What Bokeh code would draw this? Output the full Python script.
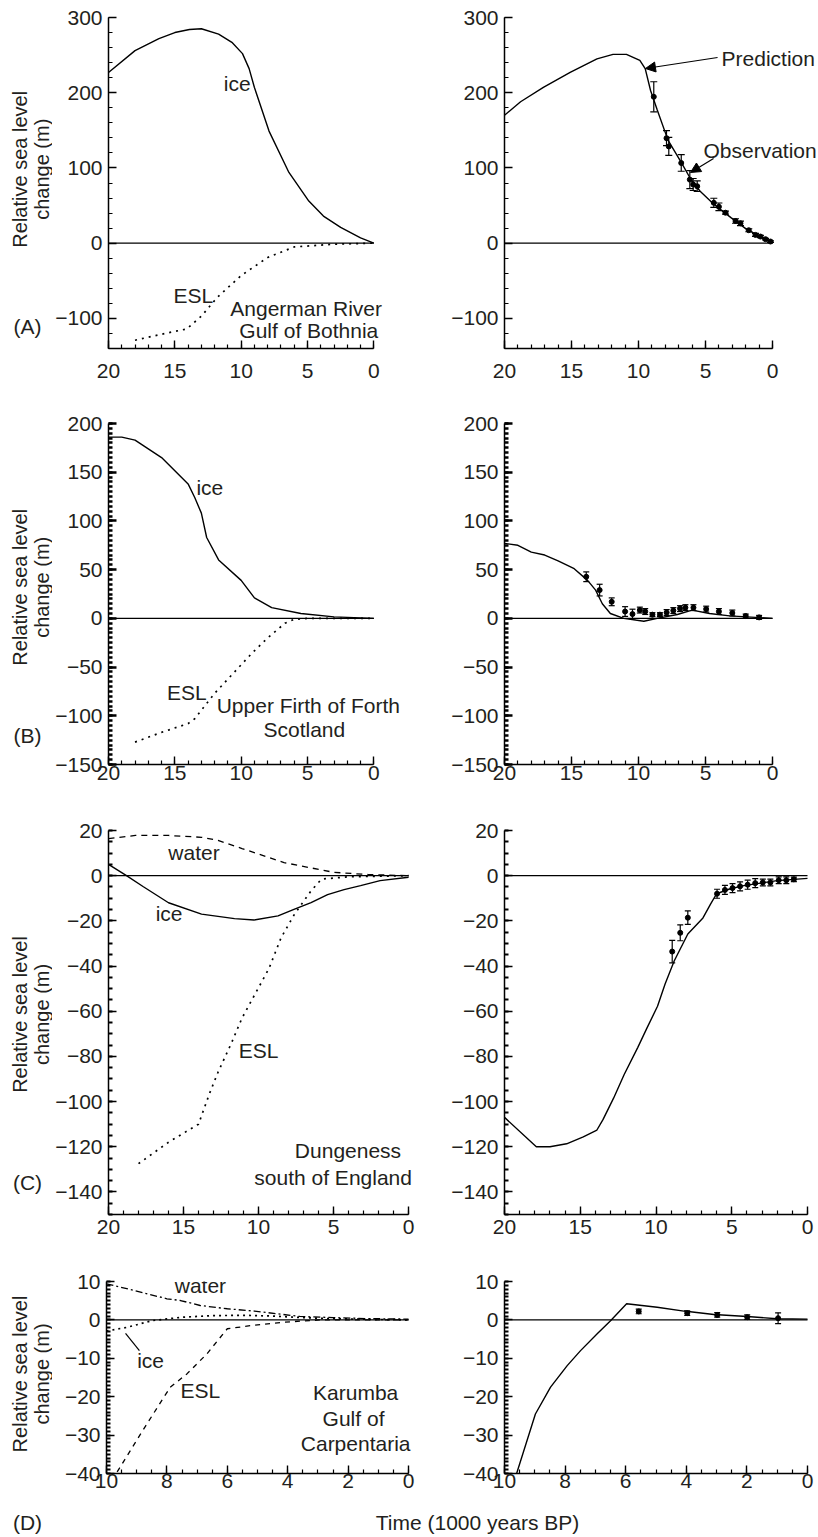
import math
from bokeh.plotting import figure
from bokeh.models import (Range1d, FixedTicker, Label, Whisker, TeeHead, Arrow,
                          NormalHead, ColumnDataSource, CustomJSTickFormatter)
from bokeh.layouts import column, row
from bokeh.embed import file_html
from bokeh.resources import INLINE

# ---------------- data ----------------
# (A) Angerman River, Gulf of Bothnia
A_ice_t = [20, 18, 16.2, 15, 13.9, 13, 11.7, 10.7, 9.9, 9.4, 9.0, 7.9, 6.4, 4.9, 3.8, 2.5, 1.0, 0]
A_ice = [227, 256, 272, 280, 284, 285, 278, 267, 252, 232, 207, 149, 94, 56, 36, 21, 7, 0]
A_esl_t = [18, 16, 14.1, 13, 11.8, 10, 8, 6, 3, 0]
A_esl = [-129, -121, -114, -97, -72, -43, -19, -5, -1.3, 0]
A_pred_t = [20, 18.8, 17.1, 15.1, 13.1, 11.9, 10.9, 9.9, 9.5, 9.1, 8.6, 7.8, 6.8, 6.1, 5.4, 4.4, 3.1, 1.9, 0.9, 0]
A_pred = [170, 188, 207, 227, 245, 251, 251, 243, 232, 203, 177, 137, 107, 85, 69, 52, 34, 18, 9, 0]
A_obs_t = [8.86, 7.91, 7.74, 6.81, 6.17, 5.92, 5.62, 4.38, 4.0, 3.51, 2.76, 2.39, 1.77, 1.27, 0.9, 0.52, 0.15]
A_obs = [194.6, 139.6, 128.6, 106.6, 84.5, 78, 75.7, 53.7, 48.4, 40.5, 29.5, 26.4, 17.2, 11, 8.8, 5.3, 2.2]
A_obs_e = [20, 10, 12, 11, 12, 8, 7, 6, 5, 2, 3, 3, 2, 2, 1.5, 1, 1]

# (B) Upper Firth of Forth, Scotland
B_ice_t = [20, 19, 18, 16, 14, 13.5, 13, 12.6, 11.7, 10, 9, 7.7, 5.5, 3, 0]
B_ice = [186, 186, 183, 165, 138, 124, 108, 83, 60, 39, 21, 11, 5, 1.5, 0]
B_esl_t = [18, 16, 14, 13.5, 12, 10.5, 9.2, 8, 6.7, 6, 5, 0]
B_esl = [-127, -117, -108, -103, -77, -55, -36, -20, -5, -1, 0, 0]
B_pred_t = [20, 19, 18, 17, 16, 14.8, 13.8, 13.2, 12.7, 12.1, 11.1, 9.6, 8.6, 7.1, 6.0, 4.7, 3.2, 0]
B_pred = [77, 75, 68, 65, 59, 51, 39, 29, 15, 5, 0, -3, 0, 4, 8.5, 5, 2.5, 0]
B_obs_t = [13.9, 12.9, 12.0, 11.0, 10.45, 9.9, 9.5, 8.96, 8.4, 7.9, 7.4, 6.9, 6.5, 5.9, 4.95, 4.0, 3.0, 2.0, 1.0]
B_obs = [42.7, 29, 17, 7, 4.4, 8.5, 7, 3.8, 3.8, 6, 8, 10, 11, 11, 9.5, 7, 5.5, 2.4, 1]
B_obs_e = [5, 6, 4, 5, 5, 3, 3, 2, 2, 3, 3, 3, 3, 3, 3, 3, 3, 2, 2]

# (C) Dungeness, south of England
C_water_t = [20, 18.2, 16, 13.8, 12.7, 11.1, 9.3, 8.3, 6.7, 5.0, 2.7, 0]
C_water = [16.4, 17.8, 17.8, 17, 15.6, 12, 8, 5.8, 3.7, 1.5, 0.5, 0]
C_ice_t = [20, 18.8, 17.7, 16, 13.8, 11.6, 10.3, 8.7, 7.6, 6.5, 5.4, 4.3, 3.2, 1.9, 0]
C_ice = [5, 0, -4.8, -12, -17, -19, -19.6, -17.8, -14.8, -11.9, -8.4, -6.2, -4.4, -2.2, -0.7]
C_esl_t = [18, 16, 14, 13.3, 12.7, 11.8, 11.1, 10.2, 9.3, 8.5, 7.6, 6.5, 5.8, 4, 0]
C_esl = [-127.5, -118, -110, -97, -87, -74, -63, -52, -41, -27.5, -17, -6.7, -1.5, -0.5, 0]
C_pred_t = [20, 17.9, 17, 15.9, 14.8, 13.9, 13.5, 12.8, 12.1, 11.2, 10.6, 9.9, 9.4, 8.8, 7.9, 6.9, 6.4,
            6.0, 5.1, 4.2, 2.0, 0]
C_pred = [-107, -120, -120, -118.7, -115.6, -112.6, -108, -98.5, -88, -76, -67.5, -57.8, -48, -37.8,
          -25.8, -18.7, -12.6, -8, -5.8, -4.4, -2.2, -1.2]
C_obs_t = [8.93, 8.4, 7.9, 5.97, 5.45, 4.95, 4.45, 3.95, 3.45, 2.95, 2.45, 1.9, 1.4, 0.9]
C_obs = [-33.6, -25.3, -18.6, -8, -6.3, -5.5, -4.7, -4, -3.3, -3, -3, -2, -2, -1.6]
C_obs_e = [5, 3.5, 3, 2, 2, 2, 2, 2, 2, 1.5, 1.5, 1.5, 1.5, 1]

# (D) Karumba, Gulf of Carpentaria
D_water_t = [10, 9.1, 8.0, 7.55, 6.9, 6.0, 5.1, 4.35, 3.6, 2.5, 1.4, 0]
D_water = [9.4, 7.7, 5.5, 5.05, 3.75, 2.9, 2.3, 1.6, 0.9, 0.6, 0.35, 0.2]
D_ice_t = [10, 9.3, 8.5, 7.5, 6.5, 5.5, 4.5, 3.5, 2.5, 0]
D_ice = [-2.9, -1.9, -0.2, 0.7, 1.1, 1.2, 1.0, 0.6, 0.3, 0]
D_esl_t = [10, 9.48, 8.87, 8.1, 7.88, 7.33, 6.67, 6.0, 5.23, 4.13, 2.9, 0]
D_esl = [-44, -37.5, -29.7, -20.1, -17.5, -14, -8.8, -2.3, -1.5, -0.6, 0, 0]
D_pred_t = [9.7, 8.98, 8.48, 7.93, 7.49, 6.94, 6.5, 5.97, 4.96, 4.08, 3.09, 1.99, 1.0, 0]
D_pred = [-42.5, -24.5, -17.5, -11.9, -8, -3.6, -0.2, 4.2, 3.3, 2.3, 1.4, 0.9, 0.3, 0.2]
D_obs_t = [5.57, 3.97, 2.98, 1.99, 0.97]
D_obs = [2.2, 1.75, 1.3, 0.7, 0.45]
D_obs_e = [0.6, 0.6, 0.6, 0.6, 1.4]

# axis tick definitions
A_yt = [-100, 0, 100, 200, 300]
B_yt = [-150, -100, -50, 0, 50, 100, 150, 200]
C_yt = [-140, -120, -100, -80, -60, -40, -20, 0, 20]
D_yt = [-40, -30, -20, -10, 0, 10]
T20_ticks = [0, 5, 10, 15, 20]
T10_ticks = [0, 2, 4, 6, 8, 10]

# ---------------- styling / layout ----------------
FONT = "Liberation Sans"
FS = "21px"
FS_TITLE = "20px"
INK = "#231f20"

# page rows: (top, frame_top, frame_bottom, bottom)
ROW_A = (0, 17, 348, 398)
ROW_B = (398, 423, 764, 805)
ROW_C = (805, 830, 1214, 1258)
ROW_D = (1258, 1281, 1473, 1505)
STRIP = (1505, 1535)
MARGIN_W = 52
# panel columns: (left, axis_start_px, axis_zero_px, right)
NL = (MARGIN_W, 106, 373, 425)
NR = (425, 504, 772, 818)
WL = (MARGIN_W, 106, 408, 425)
WR = (425, 504, 807, 818)

FMT_CODE = "return tick < 0 ? '\u2212' + Math.abs(tick) : String(tick);"


def make_panel(col, rw, xmax, yr, xt, xm, yt, ym, x_stand, y_stand, y_minor_w, y_major_w):
    L, fl, f0, R = col
    T, ft, fb, B = rw
    x_end = -(R - f0) / (f0 - fl) * xmax
    p = figure(width=R - L, height=B - T, x_range=Range1d(xmax, x_end), y_range=Range1d(*yr),
               min_border_left=fl - L, min_border_right=0,
               min_border_top=ft - T, min_border_bottom=B - fb,
               output_backend="svg", toolbar_location=None, title=None)
    p.outline_line_color = None
    p.xgrid.visible = False
    p.ygrid.visible = False
    p.background_fill_color = "white"
    p.border_fill_color = "white"
    p.xaxis.bounds = (0, xmax)
    specs = ((p.xaxis[0], xt, xm, x_stand, 1.2, 1.4), (p.yaxis[0], yt, ym, y_stand, y_minor_w, y_major_w))
    for ax, t, m, st, mw, jw in specs:
        ax.ticker = FixedTicker(ticks=t, minor_ticks=m)
        ax.formatter = CustomJSTickFormatter(code=FMT_CODE)
        ax.axis_line_color = "black"
        ax.axis_line_width = 1.5
        ax.major_tick_in = 8
        ax.major_tick_out = 0
        ax.minor_tick_in = 4
        ax.minor_tick_out = 0
        ax.major_tick_line_color = "black"
        ax.minor_tick_line_color = "black"
        ax.major_tick_line_width = jw
        ax.minor_tick_line_width = mw
        ax.major_label_text_font = FONT
        ax.major_label_text_font_size = FS
        ax.major_label_text_color = INK
        ax.major_label_standoff = st
    # zero reference line, along the axis extent only
    p.segment(x0=[xmax], y0=[0], x1=[0], y1=[0], line_color="black", line_width=1.3)
    return p


def txt(p, x, y, s, align="center", angle=0.0, size=FS):
    p.add_layout(Label(x=x, y=y, text=s, text_font=FONT, text_font_size=size, text_color=INK,
                       text_align=align, text_baseline="middle", angle=angle))


def margin_fig(rw, yc, tag, tag_y):
    T, ft, fb, B = rw
    m = figure(width=MARGIN_W, height=B - T, x_range=Range1d(0, MARGIN_W), y_range=Range1d(B, T),
               x_axis_type=None, y_axis_type=None, min_border=0, output_backend="svg",
               toolbar_location=None, title=None)
    m.outline_line_color = None
    m.background_fill_color = "white"
    m.border_fill_color = "white"
    txt(m, 19, yc, "Relative sea level", angle=math.pi / 2, size=FS_TITLE)
    txt(m, 41, yc, "change (m)", angle=math.pi / 2, size=FS_TITLE)
    if tag:
        txt(m, 27, tag_y, tag)
    return m


def obs(p, t, v, e, head=7):
    src = ColumnDataSource(dict(t=t, v=v, up=[a + b for a, b in zip(v, e)], lo=[a - b for a, b in zip(v, e)]))
    p.add_layout(Whisker(source=src, base="t", upper="up", lower="lo", dimension="height",
                         line_color="black", line_width=1.2,
                         upper_head=TeeHead(size=head, line_color="black", line_width=1.2),
                         lower_head=TeeHead(size=head, line_color="black", line_width=1.2)))
    p.scatter("t", "v", source=src, size=5, color="black")


SOLID = dict(line_color="black", line_width=1.4)
DOT = dict(line_color="black", line_width=1.7, line_dash="2 5")

m20 = list(range(0, 21))
m10 = [i * 0.5 for i in range(21)]

# ---- Row A ----
mA = margin_fig(ROW_A, 182.5, "(A)", 372)
pAL = make_panel(NL, ROW_A, 20, (-140, 300), T20_ticks, m20, A_yt, list(range(-140, 301, 20)), 15, 6, 1.2, 1.4)
pAL.line(A_ice_t, A_ice, **SOLID)
pAL.line(A_esl_t, A_esl, **DOT)
txt(pAL, 10.3, 212, "ice")
txt(pAL, 13.6, -69.5, "ESL")
txt(pAL, 5.1, -86.8, "Angerman River")
txt(pAL, 4.9, -116, "Gulf of Bothnia")

pAR = make_panel(NR, ROW_A, 20, (-140, 300), T20_ticks, m20, A_yt, list(range(-140, 301, 20)), 15, 6, 1.2, 1.4)
pAR.line(A_pred_t, A_pred, **SOLID)
obs(pAR, A_obs_t, A_obs, A_obs_e)
txt(pAR, 3.8, 245.5, "Prediction", align="left")
txt(pAR, 5.15, 123, "Observation", align="left")
pAR.add_layout(Arrow(end=NormalHead(size=10, fill_color="black", line_color="black"),
                     x_start=4.1, y_start=246.8, x_end=9.48, y_end=232.2, line_width=1.2, line_color="black"))
pAR.add_layout(Arrow(end=NormalHead(size=10, fill_color="black", line_color="black"),
                     x_start=4.4, y_start=112.6, x_end=6.12, y_end=94, line_width=1.2, line_color="black"))

# ---- Row B ----
mB = margin_fig(ROW_B, 593.5, "(B)", 770)
pBL = make_panel(NL, ROW_B, 20, (-150, 200), T20_ticks, m20, B_yt, list(range(-150, 201, 5)), 1, 6, 2.5, 2.5)
pBL.line(B_ice_t, B_ice, **SOLID)
pBL.line(B_esl_t, B_esl, **DOT)
txt(pBL, 12.36, 134.3, "ice")
txt(pBL, 14.1, -76, "ESL")
txt(pBL, 4.94, -89.4, "Upper Firth of Forth")
txt(pBL, 5.24, -114, "Scotland")

pBR = make_panel(NR, ROW_B, 20, (-150, 200), T20_ticks, m20, B_yt, list(range(-150, 201, 5)), 1, 6, 2.5, 2.5)
pBR.line(B_pred_t, B_pred, **SOLID)
obs(pBR, B_obs_t, B_obs, B_obs_e, head=6)

# ---- Row C ----
mC = margin_fig(ROW_C, 1022, "(C)", 1220)
pCL = make_panel(WL, ROW_C, 20, (-150, 20), T20_ticks, m20, C_yt, list(range(-150, 21, 5)), 5, 6, 2.2, 1.6)
pCL.line(C_water_t, C_water, line_color="black", line_width=1.3, line_dash="6 5")
pCL.line(C_ice_t, C_ice, **SOLID)
pCL.line(C_esl_t, C_esl, **DOT)
txt(pCL, 14.3, 10.4, "water")
txt(pCL, 15.96, -16.9, "ice")
txt(pCL, 10.0, -77.4, "ESL")
txt(pCL, 4.04, -121.7, "Dungeness")
txt(pCL, 5.03, -133.5, "south of England")

pCR = make_panel(WR, ROW_C, 20, (-150, 20), T20_ticks, m20, C_yt, list(range(-150, 21, 5)), 5, 6, 2.2, 1.6)
pCR.line(C_pred_t, C_pred, **SOLID)
obs(pCR, C_obs_t, C_obs, C_obs_e, head=6)

# ---- Row D ----
mD = margin_fig(ROW_D, 1377, None, 0)
pDL = make_panel(WL, ROW_D, 10, (-40, 10), T10_ticks, m10, D_yt, list(range(-40, 11, 1)), 0, 6, 2.2, 1.6)
pDL.line(D_water_t, D_water, line_color="black", line_width=1.3, line_dash="7 3 2 3")
pDL.line(D_ice_t, D_ice, line_color="black", line_width=1.7, line_dash="2 4")
pDL.line(D_esl_t, D_esl, line_color="black", line_width=1.3, line_dash="5 5")
txt(pDL, 6.89, 8.96, "water")
txt(pDL, 8.54, -10.6, "ice")
pDL.add_layout(Arrow(end=None, x_start=8.91, y_start=-8.0, x_end=9.37, y_end=-3.5,
                     line_width=1.2, line_color="black"))
txt(pDL, 6.89, -18.4, "ESL")
txt(pDL, 1.75, -18.9, "Karumba")
txt(pDL, 1.82, -25.8, "Gulf of")
txt(pDL, 1.75, -32.3, "Carpentaria")

pDR = make_panel(WR, ROW_D, 10, (-40, 10), T10_ticks, m10, D_yt, list(range(-40, 11, 1)), 0, 6, 2.2, 1.6)
pDR.line(D_pred_t, D_pred, **SOLID)
obs(pDR, D_obs_t, D_obs, D_obs_e, head=6)

# ---- bottom strip with shared labels ----
strip = figure(width=818, height=STRIP[1] - STRIP[0], x_range=Range1d(0, 818), y_range=Range1d(STRIP[1], STRIP[0]),
               x_axis_type=None, y_axis_type=None, min_border=0, output_backend="svg",
               toolbar_location=None, title=None)
strip.outline_line_color = None
strip.background_fill_color = "white"
strip.border_fill_color = "white"
txt(strip, 27, 1522, "(D)")
txt(strip, 477, 1522, "Time (1000 years BP)")

layout = column(row(mA, pAL, pAR), row(mB, pBL, pBR), row(mC, pCL, pCR), row(mD, pDL, pDR), strip)

open("out.html", "w").write(file_html(layout, INLINE))
